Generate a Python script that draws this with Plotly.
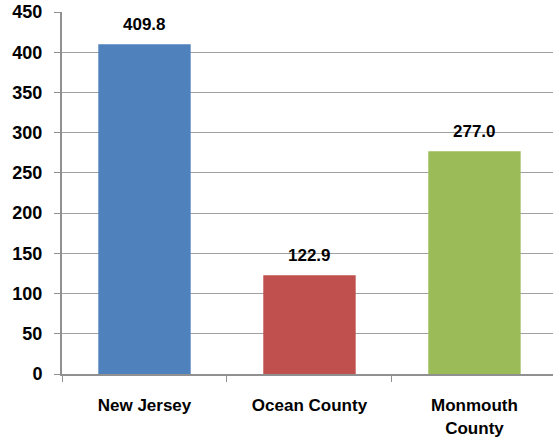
import plotly.graph_objects as go

categories = ["New Jersey", "Ocean County", "Monmouth<br>County"]
values = [409.8, 122.9, 277.0]
labels = ["409.8", "122.9", "277.0"]
colors = ["#4F81BD", "#C0504D", "#9BBB59"]
y_ticks = [0, 50, 100, 150, 200, 250, 300, 350, 400, 450]

fig = go.Figure()
fig.add_trace(go.Bar(
    x=categories, y=values, marker_color=colors, width=0.56,
    marker_line_width=0, hoverinfo="skip",
))
for c, v, t in zip(categories, values, labels):
    fig.add_annotation(
        x=c, y=v, text=t, showarrow=False, yanchor="bottom", yshift=8,
        font=dict(family="Liberation Sans", size=17, color="black", weight="bold"),
    )
fig.update_layout(
    width=553, height=442,
    margin=dict(l=62, r=0, t=12, b=68),
    paper_bgcolor="white", plot_bgcolor="white",
    showlegend=False,
    font=dict(family="Liberation Sans", color="black"),
)
fig.update_xaxes(
    range=[-0.5, 2.476], tickson="boundaries", ticks="outside", ticklen=6,
    tickcolor="#909090", showline=True, linecolor="#909090", linewidth=2,
    tickfont=dict(family="Liberation Sans", size=17, color="black", weight="bold"),
    showgrid=False, automargin=False, ticklabelstandoff=15,
)
fig.update_yaxes(
    range=[0, 450], tickvals=y_ticks, ticks="outside", ticklen=6,
    tickcolor="#909090", showline=True, linecolor="#909090", linewidth=2,
    gridcolor="#a0a0a0", gridwidth=1, zeroline=False,
    tickfont=dict(family="Liberation Sans", size=18, color="black", weight="bold"),
    ticklabelstandoff=8, automargin=False,
)
fig.write_html(
    "out.html",
    config={"displayModeBar": False},
    post_script="document.body.style.margin='0';document.body.style.overflow='hidden';",
)
